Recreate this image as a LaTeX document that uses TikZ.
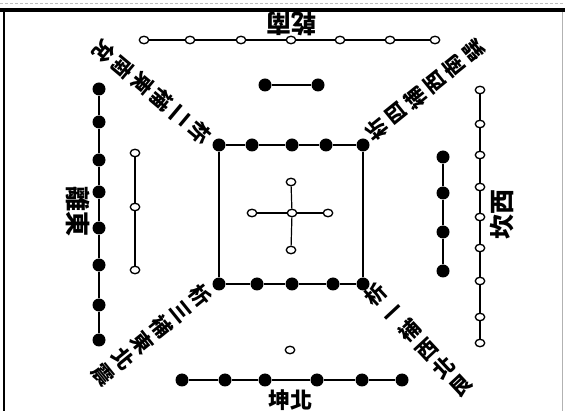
\documentclass[tikz,border=0pt]{standalone}
\usepackage{fontspec}
\newfontfamily\cjk{Noto Sans CJK TC}
\usetikzlibrary{shapes.geometric}
\tikzset{
  yin/.style={circle, fill=black, minimum size=13pt, inner sep=0pt},         % black (even) point
  yang/.style={ellipse, draw, fill=white, line width=1.3pt,
               minimum width=9.5pt, minimum height=7.5pt, inner sep=0pt},    % white (odd) point
  link/.style={line width=1.2pt},
  side/.style={font=\cjk\bfseries\fontsize{25}{25}\selectfont, inner sep=0pt},
  diag/.style={font=\cjk\bfseries\fontsize{21}{25}\selectfont, align=center, inner sep=0pt},
}
% a row / column of points, each joined to the one before
\newcommand{\rowH}[4]{%
  \foreach \px [count=\k] in {#4}{%
    \node[#2] (#1\k) at (\px,#3) {};
    \ifnum\k>1 \pgfmathtruncatemacro{\kk}{\k-1}\draw[link] (#1\kk) -- (#1\k);\fi}}
\newcommand{\rowV}[4]{%
  \foreach \py [count=\k] in {#4}{%
    \node[#2] (#1\k) at (#3,\py) {};
    \ifnum\k>1 \pgfmathtruncatemacro{\kk}{\k-1}\draw[link] (#1\kk) -- (#1\k);\fi}}

\begin{document}
\begin{tikzpicture}[x=1pt,y=-1pt]
  \useasboundingbox (0,0) rectangle (565,411);
  % frame
  \draw[gray!50, densely dashed, line width=0.5pt] (0,3) -- (565,3);
  \draw[line width=3.5pt] (0,10) -- (565,10);
  \draw[line width=1.2pt] (4,10) -- (4,411);
  \draw[gray!60, line width=0.6pt] (562,12) -- (562,411);

  % south: 7 and 2
  \rowH{s}{yang}{40}{144,190,241,291,340,390,435}
  \rowH{si}{yin}{85}{265,318}
  % north: 6 and 1
  \rowH{n}{yin}{380}{182,225,265,317,362,402}
  \node[yang] (ni) at (290,350) {};
  % east: 8 and 3
  \rowV{e}{yin}{99}{89,122,160,192,228,265,305,340}
  \rowV{ei}{yang}{135}{153,207,270}
  % west: 9 and 4
  \rowV{w}{yang}{480}{90,124,155,187,217,248,281,317,343}
  \rowV{wi}{yin}{443}{157,193,232,271}

  % centre: 10 round 5
  \rowH{qt}{yin}{145}{219,252,292,326,363}
  \rowH{qb}{yin}{284}{219,257,292,333,363}
  \draw[link] (qt1) -- (qb1);
  \draw[link] (qt5) -- (qb5);
  \node[yang] (c0) at (292,213) {};
  \node[yang] (c1) at (291,182) {};
  \node[yang] (c2) at (328,213) {};
  \node[yang] (c3) at (291,250) {};
  \node[yang] (c4) at (252,213) {};
  \foreach \i in {1,...,4}{\draw[link] (c0) -- (c\i);}

  % labels
  \node[side, rotate=180] (south) at (291,24) {乾南};
  \node[side, font=\cjk\bfseries\fontsize{22}{22}\selectfont] (north) at (290,400) {坤北};
  \node[side, rotate=-90] (east) at (78,212) {離東};
  \node[side, rotate=90] (west) at (502,215) {坎西};
  \node[diag, rotate=-130] (dTL) at (152,92) {析\\二\\補\\東\\南\\兌};
  \node[diag, rotate=129] (dTR) at (425,90) {析\\四\\補\\西\\南\\巽};
  \node[diag, rotate=-51] (dBL) at (152,335) {析\\三\\補\\東\\北\\震};
  \node[diag, rotate=43] (dBR) at (418,340) {析\\一\\補\\西\\北\\艮};
\end{tikzpicture}
\end{document}
